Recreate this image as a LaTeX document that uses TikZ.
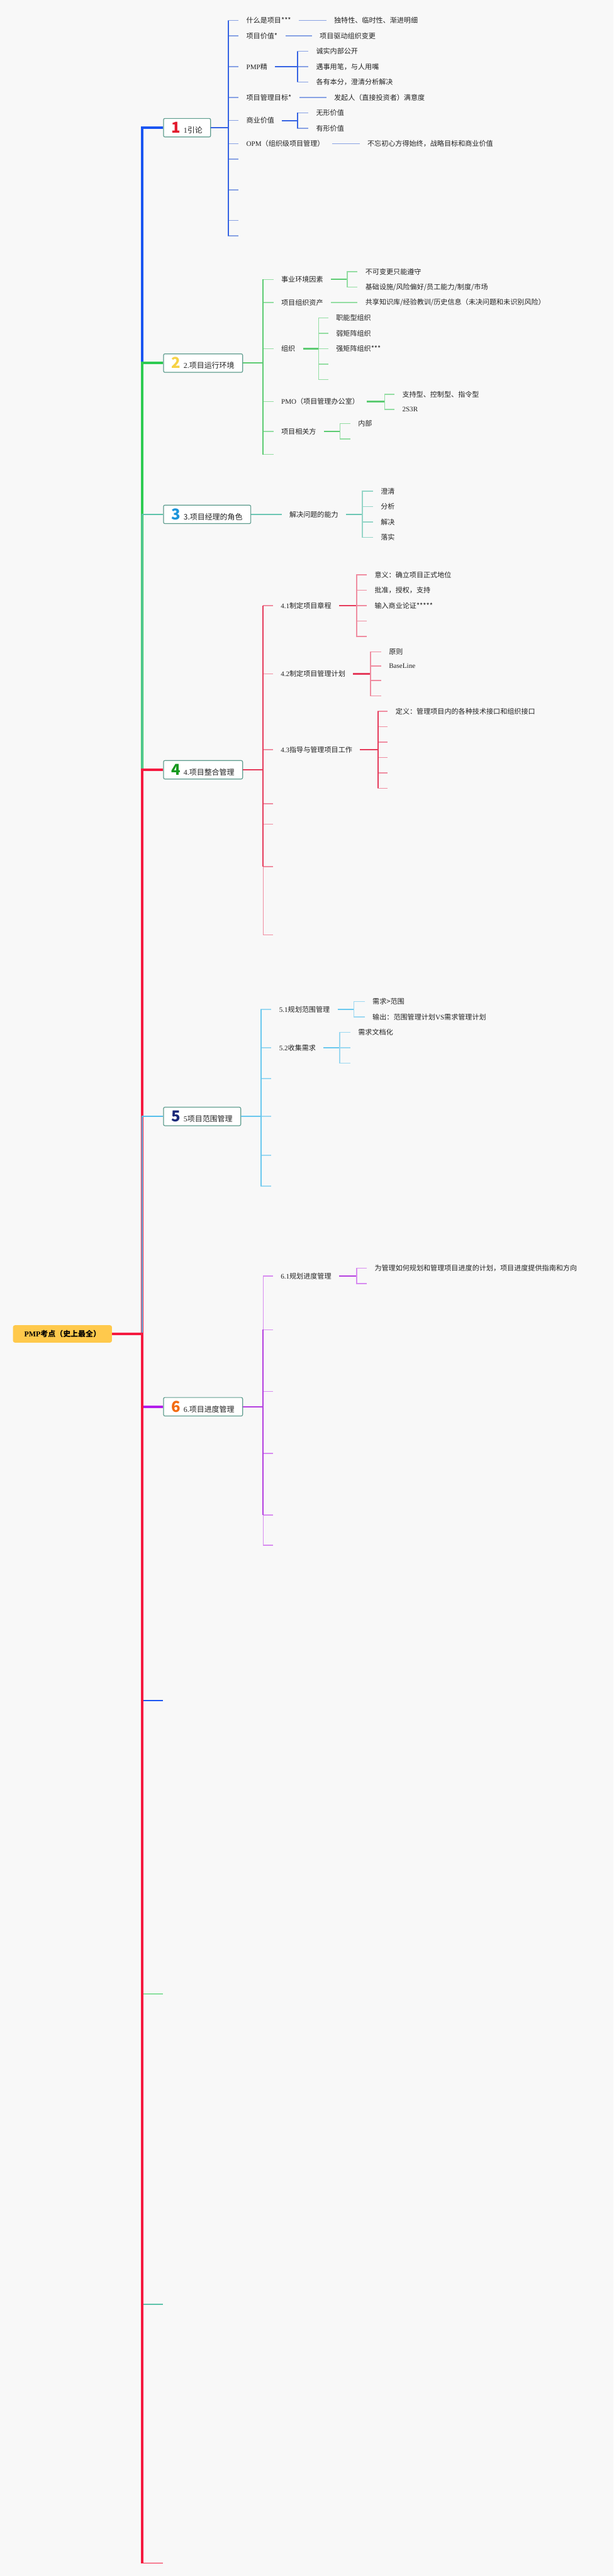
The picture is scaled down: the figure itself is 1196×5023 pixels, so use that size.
\documentclass[tikz,border=0pt]{standalone}
\usepackage{fontspec}
\setmainfont{Noto Sans CJK SC}
\newfontfamily\latfont{Liberation Serif}
\usetikzlibrary{calc}
\definecolor{bg}{HTML}{F8F8F8}
\definecolor{txt}{HTML}{222222}
\definecolor{boxline}{HTML}{5E9C8E}
\definecolor{rootfill}{HTML}{FFC94C}
\definecolor{blueA}{HTML}{1A55F2}
\definecolor{blueB}{HTML}{3563E3}
\definecolor{blueC}{HTML}{88A2E4}
\definecolor{greenA}{HTML}{2DCB52}
\definecolor{greenB}{HTML}{5CCB72}
\definecolor{greenC}{HTML}{93DDA2}
\definecolor{tealA}{HTML}{5DC3AA}
\definecolor{tealB}{HTML}{6CC6B4}
\definecolor{tealC}{HTML}{94D5C7}
\definecolor{redA}{HTML}{F51A40}
\definecolor{redB}{HTML}{E53B5B}
\definecolor{redC}{HTML}{EF8CA0}
\definecolor{skyA}{HTML}{55BFEC}
\definecolor{skyB}{HTML}{6AC8EE}
\definecolor{skyC}{HTML}{9BD8F1}
\definecolor{purpA}{HTML}{B31DEB}
\definecolor{purpB}{HTML}{B33FE0}
\definecolor{purpC}{HTML}{D78BF0}
\definecolor{numA}{HTML}{E21A2E}
\definecolor{numB}{HTML}{F6D245}
\definecolor{numC}{HTML}{1D95DB}
\definecolor{numD}{HTML}{16991F}
\definecolor{numE}{HTML}{1B2A7A}
\definecolor{numF}{HTML}{F36B12}
\newcommand{\ltn}[1]{{\latfont #1}}
\newcommand{\topicno}[2]{{\color{#1}\fontsize{22}{22}\selectfont\bfseries #2}\hspace{4pt}}

\begin{document}
\begin{tikzpicture}[x=0.75pt,y=-0.75pt,
    topic/.style={anchor=west,draw=boxline,fill=white,line width=1.1pt,rounded corners=2pt,minimum height=27pt,inner xsep=12pt,text=txt,font=\fontsize{11}{13}\selectfont},
    leaf/.style={anchor=west,inner xsep=11.25pt,inner ysep=1pt,text=txt,font=\fontsize{10.2}{12}\selectfont},
    trunk/.style={line width=3.75pt},
    stem/.style={line width=1.9pt},
    stub/.style={line width=1.5pt}]
  \fill[bg] (0,0) rectangle (1196,5023);
  \useasboundingbox (0,0) rectangle (1196,5023);

  % root and main topics
  \node[anchor=west,fill=rootfill,rounded corners=3pt,minimum width=144.75pt,minimum height=25.5pt,inner xsep=10pt,text=black,font=\fontsize{11}{13}\selectfont\bfseries] (root) at (25,2601) {\ltn{PMP}考点（史上最全）};
  \coordinate (jn) at (277,2601);
  \node[topic] (t1) at (318,249) {\topicno{numA}{1}\ltn{1}引论};
  \node[topic] (t2) at (318,708) {\topicno{numB}{2}\ltn{2.}项目运行环境};
  \node[topic] (t3) at (318,1003) {\topicno{numC}{3}3.项目经理的角色};
  \node[topic] (t4) at (318,1501) {\topicno{numD}{4}\ltn{4.}项目整合管理};
  \node[topic] (t5) at (318,2177) {\topicno{numE}{5}\ltn{5}项目范围管理};
  \node[topic] (t6) at (318,2743) {\topicno{numF}{6}\ltn{6.}项目进度管理};
  \coordinate (t7) at (318,3316);
  \coordinate (t8) at (318,3888);
  \coordinate (t9) at (318,4493);
  \coordinate (t10) at (318,4998);

  % trunk, drawn in topic order
  \draw[trunk,blueA] (root.east) -- (jn) |- (t1.west);
  \draw[trunk,greenA] (root.east) -- (jn) |- (t2.west);
  \draw[line width=2pt,tealA] (root.east) -- (jn) |- (t3.west);
  \draw[trunk,redA] (root.east) -- (jn) |- (t4.west);
  \draw[line width=2.2pt,skyA] (root.east) -- (jn) |- (t5.west);
  \draw[trunk,purpA] (root.east) -- (jn) |- (t6.west);
  \draw[line width=2.2pt,blueA] (root.east) -- (jn) |- (t7);
  \draw[line width=1.1pt,greenA] (root.east) -- (jn) |- (t8);
  \draw[line width=1.5pt,tealA] (root.east) -- (jn) |- (t9);
  \draw[trunk,redA] (root.east) -- (jn) -- (jn |- t10);
  \draw[line width=1.5pt,redA] (jn |- t10) -- (t10);

  % 1 引论
  \coordinate (v1) at (445,249);
  \draw[stem,blueB] (t1.east) -- (v1);
  \foreach \n/\y/\lbl in {a/40/{什么是项目***},b/70/{项目价值*},c/130/{\ltn{PMP}精},d/190/{项目管理目标*},e/235/{商业价值},f/280/{\ltn{OPM}（组织级项目管理）},g/310/{},h/370/{},i/430/{},j/460/{}}{
    \node[leaf] (s1\n) at (465,\y) {\lbl};
    \draw[stub,blueC] (v1) |- (s1\n.west);
  }
  \draw[stem,blueB] (v1 |- s1a.west) -- (v1 |- s1j.west);
  \node[leaf] (g1a) at (636,40) {独特性、临时性、渐进明细};
  \draw[stub,blueC] (s1a.east) -- (g1a.west);
  \node[leaf] (g1b) at (608,70) {项目驱动组织变更};
  \draw[stub,blueC] (s1b.east) -- (g1b.west);
  \coordinate (v1c) at (580,130);
  \draw[stem,blueB] (s1c.east) -- (v1c);
  \foreach \n/\y/\lbl in {a/100/{诚实内部公开},b/130/{遇事用笔，与人用嘴},c/160/{各有本分，澄清分析解决}}{
    \node[leaf] (g1c\n) at (601,\y) {\lbl};
    \draw[stub,blueC] (v1c) |- (g1c\n.west);
  }
  \draw[stub,blueB] (v1c |- g1ca.west) -- (v1c |- g1cc.west);
  \node[leaf] (g1d) at (636,190) {发起人（直接投资者）满意度};
  \draw[stub,blueC] (s1d.east) -- (g1d.west);
  \coordinate (v1e) at (580,235);
  \draw[stem,blueB] (s1e.east) -- (v1e);
  \foreach \n/\y/\lbl in {a/220/{无形价值},b/250/{有形价值}}{
    \node[leaf] (g1e\n) at (601,\y) {\lbl};
    \draw[stub,blueC] (v1e) |- (g1e\n.west);
  }
  \draw[stub,blueB] (v1e |- g1ea.west) -- (v1e |- g1eb.west);
  \node[leaf] (g1f) at (701,280) {不忘初心方得始终，战略目标和商业价值};
  \draw[stub,blueC] (s1f.east) -- (g1f.west);

  % 2 项目运行环境
  \coordinate (v2) at (513,708);
  \draw[stem,greenB] (t2.east) -- (v2);
  \foreach \n/\y/\lbl in {a/545/{事业环境因素},b/590/{项目组织资产},c/680/{组织},d/783/{\ltn{PMO}（项目管理办公室）},e/841/{项目相关方},f/886/{}}{
    \node[leaf] (s2\n) at (533,\y) {\lbl};
    \draw[stub,greenC] (v2) |- (s2\n.west);
  }
  \draw[stem,greenB] (v2 |- s2a.west) -- (v2 |- s2f.west);
  \coordinate (v2a) at (677,545);
  \draw[stem,greenB] (s2a.east) -- (v2a);
  \foreach \n/\y/\lbl in {a/530/{不可变更只能遵守},b/560/{基础设施/风险偏好/员工能力/制度/市场}}{
    \node[leaf] (g2a\n) at (697,\y) {\lbl};
    \draw[stub,greenC] (v2a) |- (g2a\n.west);
  }
  \node[leaf] (g2b) at (697,590) {共享知识库/经验教训/历史信息（未决问题和未识别风险）};
  \draw[stub,greenC] (s2b.east) -- (g2b.west);
  \coordinate (v2c) at (621,680);
  \draw[stem,greenB] (s2c.east) -- (v2c);
  \foreach \n/\y/\lbl in {a/620/{职能型组织},b/650/{弱矩阵组织},c/680/{强矩阵组织***},d/710/{},e/740/{}}{
    \node[leaf] (g2c\n) at (640,\y) {\lbl};
    \draw[stub,greenC] (v2c) |- (g2c\n.west);
  }
  \coordinate (v2d) at (750,783);
  \draw[stem,greenB] (s2d.east) -- (v2d);
  \foreach \n/\y/\lbl in {a/769/{支持型、控制型、指令型},b/798/{\ltn{2S3R}}}{
    \node[leaf] (g2d\n) at (769,\y) {\lbl};
    \draw[stub,greenC] (v2d) |- (g2d\n.west);
  }
  \coordinate (v2e) at (663,841);
  \draw[stem,greenB] (s2e.east) -- (v2e);
  \foreach \n/\y/\lbl in {a/826/{内部},b/856/{}}{
    \node[leaf] (g2e\n) at (683,\y) {\lbl};
    \draw[stub,greenC] (v2e) |- (g2e\n.west);
  }

  % 3 项目经理的角色
  \node[leaf] (s3a) at (549,1003) {解决问题的能力};
  \draw[stem,tealB] (t3.east) -- (s3a.west);
  \coordinate (v3a) at (706,1003);
  \draw[stem,tealB] (s3a.east) -- (v3a);
  \foreach \n/\y/\lbl in {a/958/{澄清},b/988/{分析},c/1018/{解决},d/1048/{落实}}{
    \node[leaf] (g3a\n) at (727,\y) {\lbl};
    \draw[stub,tealC] (v3a) |- (g3a\n.west);
  }

  % 4 项目整合管理
  \coordinate (v4) at (513,1501);
  \draw[stem,redB] (t4.east) -- (v4);
  \foreach \n/\y/\lbl in {a/1181/{\ltn{4.1}制定项目章程},b/1314/{\ltn{4.2}制定项目管理计划},c/1462/{\ltn{4.3}指导与管理项目工作},d/1567/{},e/1607/{},f/1690/{},g/1823/{}}{
    \node[leaf] (s4\n) at (532,\y) {\lbl};
    \draw[stub,redC] (v4) |- (s4\n.west);
  }
  \draw[stem,redB] (v4 |- s4a.west) -- (v4 |- s4f.west);
  \coordinate (v4a) at (695,1181);
  \draw[stem,redB] (s4a.east) -- (v4a);
  \foreach \n/\y/\lbl in {a/1121/{意义：确立项目正式地位},b/1151/{批准，授权，支持},c/1181/{输入商业论证*****},d/1211/{},e/1241/{}}{
    \node[leaf] (g4a\n) at (715,\y) {\lbl};
    \draw[stub,redC] (v4a) |- (g4a\n.west);
  }
  \coordinate (v4b) at (722,1314);
  \draw[stem,redB] (s4b.east) -- (v4b);
  \foreach \n/\y/\lbl in {a/1271/{原则},b/1299/{\ltn{BaseLine}},c/1327/{},d/1357/{}}{
    \node[leaf] (g4b\n) at (743,\y) {\lbl};
    \draw[stub,redC] (v4b) |- (g4b\n.west);
  }
  \coordinate (v4c) at (737,1462);
  \draw[stem,redB] (s4c.east) -- (v4c);
  \foreach \n/\y/\lbl in {a/1387/{定义：管理项目内的各种技术接口和组织接口},b/1417/{},c/1447/{},d/1477/{},e/1507/{},f/1537/{}}{
    \node[leaf] (g4c\n) at (756,\y) {\lbl};
    \draw[stub,redC] (v4c) |- (g4c\n.west);
  }
  \draw[stub,redB] (v4c |- g4ca.west) -- (v4c |- g4cf.west);

  % 5 项目范围管理
  \coordinate (v5) at (509,2177);
  \draw[stem,skyB] (t5.east) -- (v5);
  \foreach \n/\y/\lbl in {a/1968/{\ltn{5.1}规划范围管理},b/2043/{\ltn{5.2}收集需求},c/2103/{},d/2177/{},e/2253/{},f/2313/{}}{
    \node[leaf] (s5\n) at (529,\y) {\lbl};
    \draw[stub,skyC] (v5) |- (s5\n.west);
  }
  \draw[stem,skyB] (v5 |- s5a.west) -- (v5 |- s5f.west);
  \coordinate (v5a) at (690,1968);
  \draw[stem,skyB] (s5a.east) -- (v5a);
  \foreach \n/\y/\lbl in {a/1953/{需求>范围},b/1983/{输出：范围管理计划\ltn{VS}需求管理计划}}{
    \node[leaf] (g5a\n) at (711,\y) {\lbl};
    \draw[stub,skyC] (v5a) |- (g5a\n.west);
  }
  \coordinate (v5b) at (662,2043);
  \draw[stem,skyB] (s5b.east) -- (v5b);
  \foreach \n/\y/\lbl in {a/2013/{需求文档化},b/2043/{},c/2073/{}}{
    \node[leaf] (g5b\n) at (683,\y) {\lbl};
    \draw[stub,skyC] (v5b) |- (g5b\n.west);
  }

  % 6 项目进度管理
  \coordinate (v6) at (513,2743);
  \draw[stem,purpB] (t6.east) -- (v6);
  \foreach \n/\y/\lbl in {a/2488/{\ltn{6.1}规划进度管理},b/2593/{},c/2713/{},d/2834/{},e/2954/{},f/3013/{}}{
    \node[leaf] (s6\n) at (532,\y) {\lbl};
    \draw[stub,purpC] (v6) |- (s6\n.west);
  }
  \draw[stem,purpB] (v6 |- s6b.west) -- (v6 |- s6e.west);
  \coordinate (v6a) at (695,2488);
  \draw[stem,purpB] (s6a.east) -- (v6a);
  \foreach \n/\y/\lbl in {a/2473/{为管理如何规划和管理项目进度的计划，项目进度提供指南和方向},b/2503/{}}{
    \node[leaf] (g6a\n) at (715,\y) {\lbl};
    \draw[stub,purpC] (v6a) |- (g6a\n.west);
  }
\end{tikzpicture}
\end{document}
